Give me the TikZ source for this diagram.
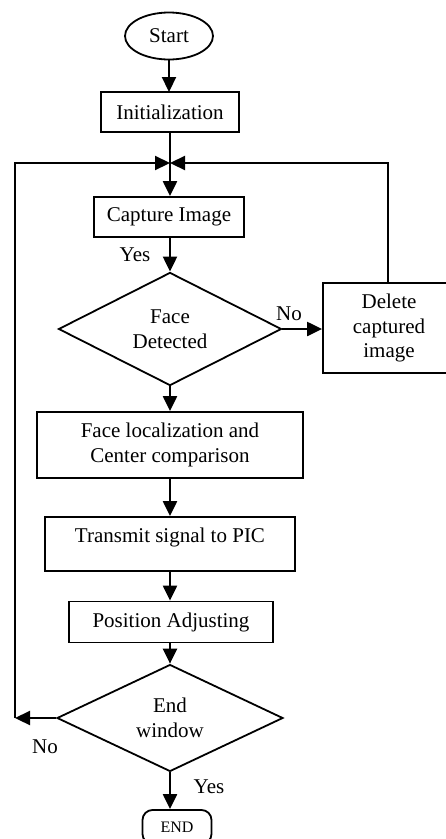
\documentclass[tikz,border=0pt]{standalone}
\usepackage{fontspec}
\setmainfont{Liberation Serif}
\usetikzlibrary{arrows.meta,shapes.geometric}
\begin{document}
\begin{tikzpicture}[x=1pt,y=-1pt,
  every node/.style={font=\fontsize{21}{24.5}\selectfont},
  procbox/.style={draw,line width=1.8pt,inner sep=0pt,align=center},
  decis/.style={draw,diamond,line width=1.8pt,inner sep=0pt,align=center},
  termin/.style={draw,ellipse,line width=1.8pt,inner sep=0pt},
  arr/.style={line width=2.2pt,-{Triangle[length=15pt,width=14pt]}},
  ln/.style={line width=2.2pt},
  lbl/.style={inner sep=0pt}]
\useasboundingbox (0,0) rectangle (446,839);
\clip (0,0) rectangle (446,839);
\node[termin,minimum width=88pt,minimum height=47pt] (start) at (169,36) {Start};
\node[procbox,minimum width=138pt,minimum height=40pt] (init) at (170,112) {Initialization};
\coordinate (merge) at (170,163);
\node[procbox,minimum width=150pt,minimum height=40pt] (cap) at (169,217) {Capture Image};
\node[decis,minimum width=223pt,minimum height=105pt] (fd) at (170,329) {Face\\Detected};
\node[procbox,minimum width=132pt,minimum height=90pt] (del) at (389,328) {Delete\\captured\\image};
\node[procbox,minimum width=266pt,minimum height=66pt] (loc) at (170,445) {Face localization and\\Center comparison};
\node[procbox,minimum width=250pt,minimum height=54pt,text depth=18.5pt] (tx) at (170,544) {Transmit signal to PIC};
\node[procbox,minimum width=204pt,minimum height=41pt] (pos) at (171,622) {Position Adjusting};
\node[decis,minimum width=226pt,minimum height=101pt] (ew) at (170,718) {End\\window};
\node[draw,line width=1.8pt,rounded corners=10pt,minimum width=69pt,minimum height=34pt,inner sep=0pt,font=\fontsize{16}{18}\selectfont] (endn) at (177,827) {END};
\coordinate (lc) at (15,718);
\coordinate (ltop) at (15,163);
\draw[arr] (start.south -| 169,0) -- (169,92);
\draw[ln] (init.south -| merge) -- (merge);
\draw[arr] (merge) -- (merge |- cap.north);
\draw[arr] (merge |- cap.south) -- (fd.north);
\draw[arr] (fd.east) -- (fd.east -| del.west);
\draw[arr] (del.north -| 388,0) -- (388,163) -- (merge);
\draw[arr] (fd.south) -- (fd.south |- loc.north);
\draw[arr] (loc.south) -- (loc.south |- tx.north);
\draw[arr] (tx.south) -- (tx.south |- pos.north);
\draw[arr] (tx.south |- pos.south) -- (ew.north);
\draw[arr] (ew.west) -- (lc);
\draw[arr] (lc) -- (ltop) -- (merge);
\draw[arr] (ew.south) -- (ew.south |- endn.north);
\node[lbl] (yes1) at (135,255) {Yes};
\node[lbl] (no1) at (289,314) {No};
\node[lbl] (no2) at (45,747) {No};
\node[lbl] (yes2) at (209,787) {Yes};
\end{tikzpicture}
\end{document}
